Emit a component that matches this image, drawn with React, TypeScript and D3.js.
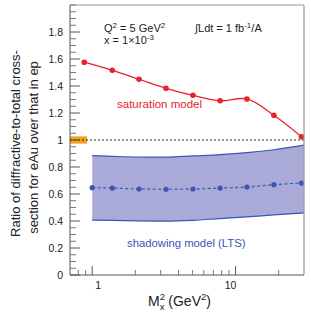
import React from "react";
import * as d3 from "d3";

// ---- data ----
const satX = [0.88, 1.38, 2.12, 3.27, 5.04, 7.8, 12.0, 18.5, 28.8];
const satY = [1.576, 1.516, 1.45, 1.383, 1.331, 1.291, 1.304, 1.183, 1.024];

const shadX = [1.0, 1.38, 2.12, 3.27, 5.04, 7.8, 12.0, 18.5, 28.8];
const shadY = [0.647, 0.644, 0.637, 0.635, 0.637, 0.644, 0.652, 0.669, 0.681];

const bandX = [1.0, 1.38, 2.12, 3.27, 5.04, 7.8, 12.0, 18.5, 30];
const bandHi = [0.884, 0.879, 0.874, 0.873, 0.882, 0.891, 0.906, 0.928, 0.962];
const bandLo = [0.407, 0.405, 0.401, 0.399, 0.405, 0.418, 0.43, 0.445, 0.46];

const refBandX = [0.7, 0.92];
const refBandY = [0.973, 1.027];

const yMajor = [0, 0.2, 0.4, 0.6, 0.8, 1, 1.2, 1.4, 1.6, 1.8];
const yMajorLabels = ["0", "0.2", "0.4", "0.6", "0.8", "1", "1.2", "1.4", "1.6", "1.8"];
const xMajor = [1, 10];
const xMajorLabels = ["1", "10"];
const xMinor = [0.8, 0.9, 2, 3, 4, 5, 6, 7, 8, 9, 20];

const W = 311;
const H = 317;
const FONT = "'Liberation Sans', Arial, Helvetica, sans-serif";
const RED = "#e8232b";
const BLUE = "#3a55b4";

export default function App() {
  const x = d3.scaleLog().domain([0.7, 30]).range([70, 304]);
  const y = d3.scaleLinear().domain([0, 2]).range([275, 5]);

  const yMinor = d3.range(0, 2.0001, 0.05).filter(
    (v) => !yMajor.some((m) => Math.abs(m - v) < 1e-6)
  );

  const satPts: [number, number][] = satX.map((v, i) => [x(v), y(satY[i])]);
  const shadPts: [number, number][] = shadX.map((v, i) => [x(v), y(shadY[i])]);

  const satLine = d3.line().curve(d3.curveCatmullRom.alpha(0.5))(satPts) || "";
  const shadLine = d3.line().curve(d3.curveMonotoneX)(shadPts) || "";

  const bandArea =
    d3
      .area<number>()
      .x((_, i) => x(bandX[i]))
      .y0((_, i) => y(bandLo[i]))
      .y1((_, i) => y(bandHi[i]))
      .curve(d3.curveMonotoneX)(bandX) || "";
  const hiLine =
    d3
      .line<number>()
      .x((_, i) => x(bandX[i]))
      .y((d) => y(d))
      .curve(d3.curveMonotoneX)(bandHi) || "";
  const loLine =
    d3
      .line<number>()
      .x((_, i) => x(bandX[i]))
      .y((d) => y(d))
      .curve(d3.curveMonotoneX)(bandLo) || "";

  const [x0, x1] = x.range();
  const [yb, yt] = y.range();
  const xLabelDx = [6, -5];

  return (
    <svg
      width={W}
      height={H}
      style={{ position: "absolute", left: 0, top: 0, background: "#fff" }}
      fontFamily={FONT}
    >
      {/* shadowing band */}
      <path d={bandArea} fill="#aaaad8" stroke="none" />
      <path d={hiLine} fill="none" stroke={BLUE} strokeWidth={1.2} />
      <path d={loLine} fill="none" stroke={BLUE} strokeWidth={1.2} />

      {/* reference band at 1 */}
      <rect
        x={x(refBandX[0])}
        y={y(refBandY[1])}
        width={x(refBandX[1]) - x(refBandX[0])}
        height={y(refBandY[0]) - y(refBandY[1])}
        fill="#f3a21e"
      />
      <line
        x1={x0}
        x2={x1}
        y1={y(1)}
        y2={y(1)}
        stroke="#222"
        strokeWidth={1}
        strokeDasharray="2,2"
      />

      {/* shadowing line */}
      <path d={shadLine} fill="none" stroke={BLUE} strokeWidth={1.2} strokeDasharray="3,2.5" />
      {shadPts.map((p, i) => (
        <circle key={"b" + i} cx={p[0]} cy={p[1]} r={2.6} fill={BLUE} />
      ))}

      {/* saturation line */}
      <path d={satLine} fill="none" stroke={RED} strokeWidth={1.3} />
      {satPts.map((p, i) => (
        <circle key={"r" + i} cx={p[0]} cy={p[1]} r={2.8} fill={RED} />
      ))}

      {/* frame */}
      <line x1={x0} x2={x1} y1={yt} y2={yt} stroke="#999" strokeWidth={1} />
      <line x1={x1} x2={x1} y1={yt} y2={yb} stroke="#999" strokeWidth={1.2} />
      <line x1={x0} x2={x0} y1={yt} y2={yb} stroke="#555" strokeWidth={1} />
      <line x1={x0} x2={x1} y1={yb} y2={yb} stroke="#555" strokeWidth={1} />

      {/* y ticks */}
      {yMajor.map((v, i) => (
        <g key={"ym" + i}>
          <line x1={x0} x2={x0 + 10} y1={y(v)} y2={y(v)} stroke="#555" strokeWidth={1} />
          <text
            x={x0 - 7}
            y={y(v)}
            dy="0.35em"
            textAnchor="end"
            fontSize={10.5}
            fill="#222"
          >
            {yMajorLabels[i]}
          </text>
        </g>
      ))}
      {yMinor.map((v, i) => (
        <line key={"yn" + i} x1={x0} x2={x0 + 6} y1={y(v)} y2={y(v)} stroke="#777" strokeWidth={1} />
      ))}

      {/* x ticks */}
      {xMajor.map((v, i) => (
        <g key={"xm" + i}>
          <line x1={x(v)} x2={x(v)} y1={yb} y2={yb - 9} stroke="#555" strokeWidth={1} />
          <text
            x={x(v) + xLabelDx[i]}
            y={289}
            textAnchor="middle"
            fontSize={10.5}
            fill="#222"
          >
            {xMajorLabels[i]}
          </text>
        </g>
      ))}
      {xMinor.map((v, i) => (
        <line key={"xn" + i} x1={x(v)} x2={x(v)} y1={yb} y2={yb - 5} stroke="#777" strokeWidth={1} />
      ))}

      {/* annotations */}
      <text x={104} y={32} fontSize={11} fill="#222">
        Q<tspan dy={-4} fontSize={8}>2</tspan>
        <tspan dy={4}> = 5 GeV</tspan>
        <tspan dy={-4} fontSize={8}>2</tspan>
      </text>
      <text x={104} y={44} fontSize={11} fill="#222">
        x = 1×10<tspan dy={-4} fontSize={8}>-3</tspan>
      </text>
      <text x={195} y={32} fontSize={11} fill="#222">
        ∫Ldt = 1 fb<tspan dy={-4} fontSize={8}>-1</tspan>
        <tspan dy={4}>/A</tspan>
      </text>

      <text x={117} y={107.5} fontSize={11.5} fill={RED}>
        saturation model
      </text>
      <text x={127} y={246.5} fontSize={11.3} fill={BLUE}>
        shadowing model (LTS)
      </text>

      {/* axis titles */}
      <g transform="translate(15,143.5) rotate(-90)">
        <text x={0} y={0} dy="0.35em" textAnchor="middle" fontSize={13} fill="#222">
          Ratio of diffractive-to-total cross-
        </text>
      </g>
      <g transform="translate(33,147.5) rotate(-90)">
        <text x={0} y={0} dy="0.35em" textAnchor="middle" fontSize={13} fill="#222">
          section for eAu over that in ep
        </text>
      </g>

      <text x={148} y={306} fontSize={14} fill="#222">
        M
        <tspan dy={-6} fontSize={9.5}>2</tspan>
        <tspan dx={-5.3} dy={10} fontSize={9.5}>x</tspan>
        <tspan dy={-4}> (GeV</tspan>
        <tspan dy={-6} fontSize={9.5}>2</tspan>
        <tspan dy={6}>)</tspan>
      </text>
    </svg>
  );
}
